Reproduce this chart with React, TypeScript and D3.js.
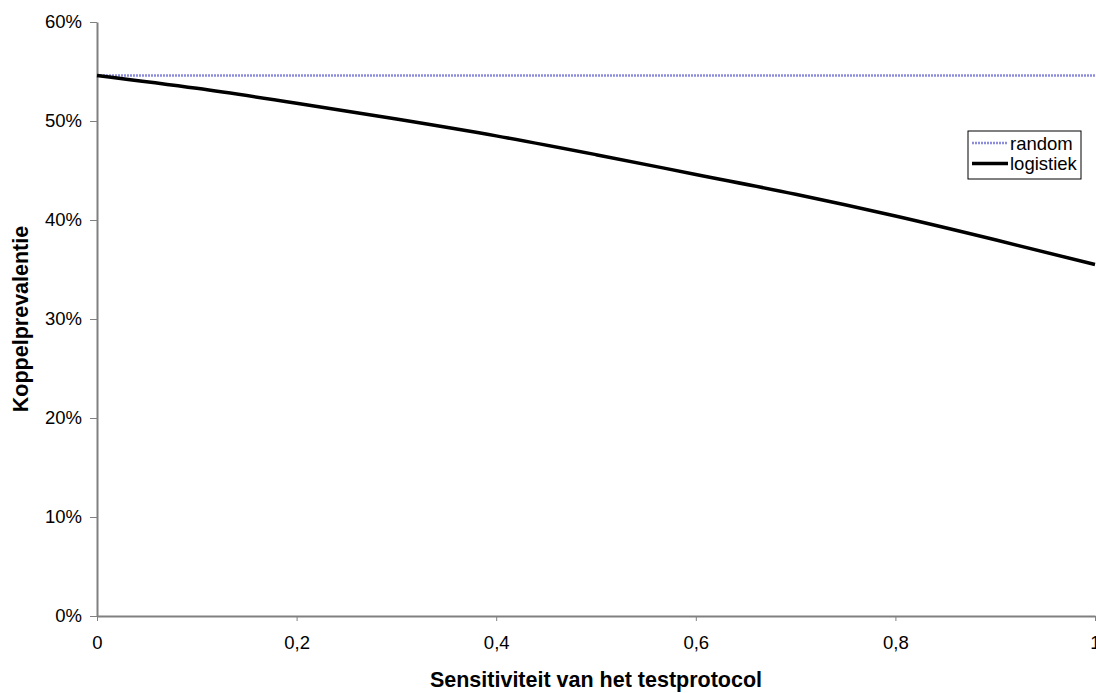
import * as d3 from 'd3';
import { useEffect, useRef } from 'react';

// sensitivity of the test protocol (x) and couple prevalence (y)
const sensitivity = [0, 0.1, 0.2, 0.3, 0.4, 0.5, 0.6, 0.7, 0.8, 0.9, 1];
const randomValues = [0.546, 0.546, 0.546, 0.546, 0.546, 0.546, 0.546, 0.546, 0.546, 0.546, 0.546];
const logistiekValues = [0.546, 0.533, 0.518, 0.502, 0.485, 0.466, 0.446, 0.426, 0.404, 0.38, 0.355];
const xTicks = [0, 0.2, 0.4, 0.6, 0.8, 1];
const yTicks = [0, 0.1, 0.2, 0.3, 0.4, 0.5, 0.6];
const seriesNames = ['random', 'logistiek'];

const App = () => {
  const svgRef = useRef(null);

  useEffect(() => {
    const svg = d3.select(svgRef.current);
    svg.selectAll('*').remove();
    const font = 'Liberation Sans, Arial, sans-serif';
    const randomColor = '#8c8cdc';

    const x = d3.scaleLinear().domain([0, 1]).range([97, 1095]);
    const y = d3.scaleLinear().domain([0, 0.6]).range([616, 22]);

    // y axis
    const yAxis = svg.append('g')
      .attr('transform', 'translate(97,0)')
      .call(d3.axisLeft(y).tickValues(yTicks).tickSize(7).tickSizeOuter(0).tickPadding(8)
        .tickFormat(d => `${Math.round(+d * 100)}%`));
    yAxis.select('.domain').attr('stroke', '#808080').attr('stroke-width', 2);
    yAxis.selectAll('line').attr('stroke', '#808080');
    yAxis.selectAll('text').attr('font-family', font).attr('font-size', 18.5).attr('fill', '#000');

    // x axis
    const xAxis = svg.append('g')
      .attr('transform', 'translate(0,616)')
      .call(d3.axisBottom(x).tickValues(xTicks).tickSize(5).tickSizeOuter(0).tickPadding(15)
        .tickFormat(d => d3.format('.1~f')(+d).replace('.', ',')));
    xAxis.select('.domain').attr('stroke', '#808080').attr('stroke-width', 2);
    xAxis.selectAll('line').attr('stroke', '#808080');
    xAxis.selectAll('text').attr('font-family', font).attr('font-size', 18.5).attr('fill', '#000');

    const line = d3.line<number>()
      .x((_, i) => x(sensitivity[i]))
      .y(d => y(d))
      .curve(d3.curveMonotoneX);

    svg.append('path')
      .attr('d', line(randomValues))
      .attr('fill', 'none')
      .attr('stroke', randomColor)
      .attr('stroke-width', 2.5)
      .attr('stroke-dasharray', '2,1');

    svg.append('path')
      .attr('d', line(logistiekValues))
      .attr('fill', 'none')
      .attr('stroke', '#000')
      .attr('stroke-width', 3.5);

    // axis titles
    svg.append('text')
      .attr('x', 596)
      .attr('y', 687)
      .attr('text-anchor', 'middle')
      .attr('font-family', font)
      .attr('font-size', 21.5)
      .attr('font-weight', 'bold')
      .text('Sensitiviteit van het testprotocol');

    svg.append('text')
      .attr('transform', 'translate(28,319) rotate(-90)')
      .attr('text-anchor', 'middle')
      .attr('font-family', font)
      .attr('font-size', 21.5)
      .attr('font-weight', 'bold')
      .text('Koppelprevalentie');

    // legend
    const legend = svg.append('g');
    legend.append('rect')
      .attr('x', 968).attr('y', 131).attr('width', 113).attr('height', 48)
      .attr('fill', '#fff').attr('stroke', '#000').attr('stroke-width', 1);
    seriesNames.forEach((name, i) => {
      const cy = 143 + i * 20.5;
      legend.append('line')
        .attr('x1', 972).attr('x2', 1008).attr('y1', cy).attr('y2', cy)
        .attr('stroke', i === 0 ? randomColor : '#000')
        .attr('stroke-width', i === 0 ? 2.5 : 3.5)
        .attr('stroke-dasharray', i === 0 ? '2,1' : null);
      legend.append('text')
        .attr('x', 1010).attr('y', cy + 6.5)
        .attr('font-family', font).attr('font-size', 18.5)
        .text(name);
    });
  }, []);

  return (
    <svg ref={svgRef} width={1096} height={693}
      style={{ position: 'absolute', left: 0, top: 0, background: '#fff' }}></svg>
  );
};

export default App;
